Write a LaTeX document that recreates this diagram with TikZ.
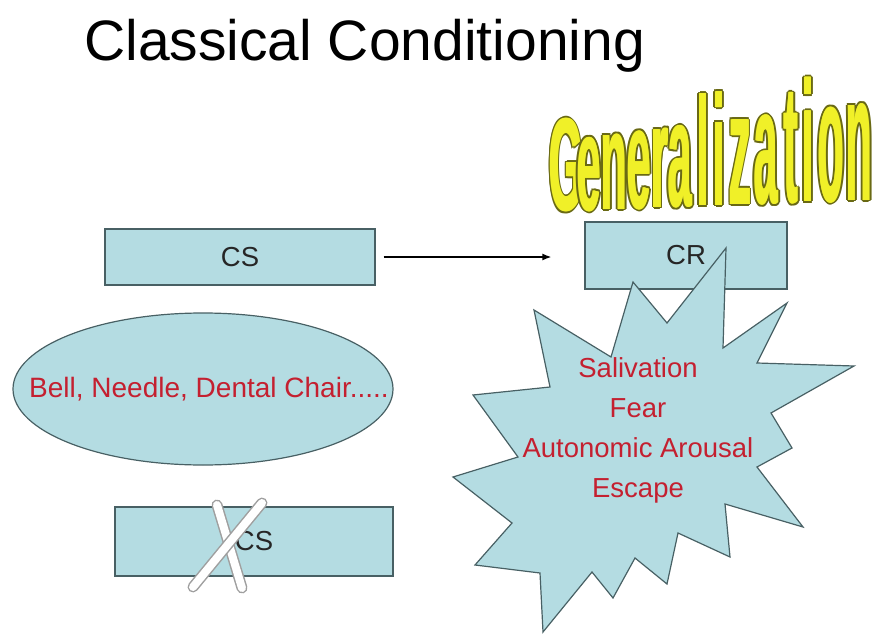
\documentclass[tikz,border=0pt]{standalone}
\usepackage{fontspec}
\setmainfont{Liberation Sans}
\usetikzlibrary{positioning}
\usetikzlibrary{arrows.meta}
\usetikzlibrary{shapes.geometric}
\definecolor{boxfill}{RGB}{180,220,226}
\definecolor{boxline}{RGB}{72,96,100}
\definecolor{respred}{RGB}{196,32,48}
\definecolor{wordfill}{RGB}{240,240,40}
\definecolor{wordline}{RGB}{105,105,20}

% one letter of the word art, outlined and made heavier
\newcommand\genletter[2]{%
  \def\wg{\scalebox{1}[#2]{#1}}%
  \rlap{\hspace*{-2.2pt}\textcolor{wordline}{\wg}}%
  \rlap{\hspace*{2.2pt}\textcolor{wordline}{\wg}}%
  \rlap{\raisebox{2pt}{\textcolor{wordline}{\wg}}}%
  \rlap{\raisebox{-2pt}{\textcolor{wordline}{\wg}}}%
  \rlap{\hspace*{1.6pt}\raisebox{1.5pt}{\textcolor{wordline}{\wg}}}%
  \rlap{\hspace*{-1.6pt}\raisebox{1.5pt}{\textcolor{wordline}{\wg}}}%
  \rlap{\hspace*{1.6pt}\raisebox{-1.5pt}{\textcolor{wordline}{\wg}}}%
  \rlap{\hspace*{-1.6pt}\raisebox{-1.5pt}{\textcolor{wordline}{\wg}}}%
  \rlap{\hspace*{-0.8pt}\textcolor{wordfill}{\wg}}%
  \rlap{\hspace*{0.8pt}\textcolor{wordfill}{\wg}}%
  \textcolor{wordfill}{\wg}}

\begin{document}
\begin{tikzpicture}[x=1pt, y=-1pt,
csbox/.style={rectangle, draw=boxline, fill=boxfill, line width=1.2pt, inner sep=0pt, font=\fontsize{27.5}{30}\selectfont, text=black!85},
stimnode/.style={ellipse, draw=boxline, fill=boxfill, line width=1.2pt, inner sep=0pt, minimum width=380pt, minimum height=152pt},
burst/.style={draw=boxline, fill=boxfill, line width=1.2pt, line join=miter},
resp/.style={inner sep=0pt, font=\fontsize{27.5}{30}\selectfont, text=respred},
genstyle/.style={inner sep=0pt, font=\fontsize{43}{45}\selectfont\bfseries},
crossedge/.style={draw=gray!75, line width=11pt, line cap=round},
crossface/.style={draw=white, line width=8pt, line cap=round},
]
\useasboundingbox (0,0) rectangle (873,634);

%Title
\node[anchor=base west, inner sep=0pt, font=\fontsize{57}{60}\selectfont] (title) at (84,60) {Classical Conditioning};

%Word art
\foreach \ch/\cx [count=\i] in {G/566, e/589, n/614, e/639, r/660, a/680, l/703, i/719, z/740, a/766, t/791, i/808, o/831, n/859}
{
  \pgfmathsetmacro\by{211-(\cx-565)*11/295}
  \pgfmathsetmacro\ys{(132+(\cx-565)*48/295)/43}
  \node[genstyle, anchor=base] (gen\i) at (\cx,\by) {\genletter{\ch}{\ys}};
}

%Nodes
\node[csbox, minimum width=270pt, minimum height=56pt] (cs)      at (240,257)   {CS};
\node[csbox, minimum width=202pt, minimum height=67pt] (cr)      at (686,255.5) {CR};
\node[stimnode]                                        (stimuli) at (203,389)   {};
\node[resp, font=\fontsize{28}{30}\selectfont]          (stimtext) at (209,389) {Bell, Needle, Dental Chair.....};
\node[csbox, minimum width=278pt, minimum height=69pt] (nocs)    at (254,541.5) {CS};

%Lines
\draw[line width=1.5pt, -{Latex[length=9pt,width=7pt]}, shorten <=8pt, shorten >=33pt] (cs.east) -- (cs.east -| cr.west);

%Burst
\draw[burst] (633,282) -- (667,323) -- (726,248) -- (723,348) -- (787,303) -- (757,363)
  -- (854,366) -- (771,413) -- (792,448) -- (757,467) -- (803,527) -- (725,504)
  -- (730,557) -- (678,533) -- (667,584) -- (635,558) -- (613,598) -- (592,572)
  -- (543,632) -- (540,573) -- (475,565) -- (512,523) -- (453,477) -- (518,457)
  -- (473,395) -- (550,387) -- (534,310) -- (611,357) -- cycle;
\foreach \t [count=\i] in {Salivation, Fear, Autonomic Arousal, Escape}
  \node[resp, anchor=base] (resp\i) at (638,{337+40*\i}) {\t};

%Cross
\draw[crossedge] (217,505) -- (242,588);
\draw[crossface] (217,505) -- (242,588);
\draw[crossedge] (262,503) -- (193,587);
\draw[crossface] (262,503) -- (193,587);
\end{tikzpicture}
\end{document}
